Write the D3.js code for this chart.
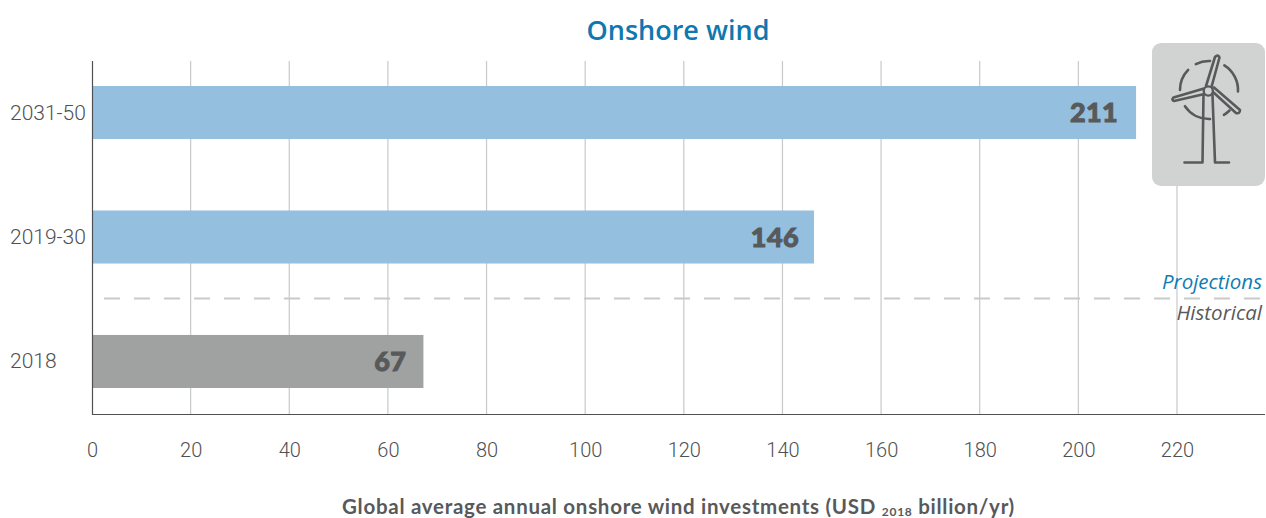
<!DOCTYPE html>
<html><head><meta charset="utf-8">
<script src="https://cdn.jsdelivr.net/npm/d3@7"></script>
<style>html,body{margin:0;padding:0;background:#fff}svg{display:block}text{font-family:Lato,sans-serif}</style>
</head><body><svg id="c" width="1266" height="518"></svg>
<script>
const categories=["2031-50","2019-30","2018"];
const barValues=[211.7,146.4,67.2];
const valueLabels=["211","146","67"];
const barColors=["#94bfdf","#94bfdf","#a0a2a1"];
const xTicks=[0,20,40,60,80,100,120,140,160,180,200,220];
const iconArcs=[[-27,2],[32,93],[135,149],[178,236],[270,314]];
const svg=d3.select("#c");
const x=d3.scaleLinear().domain([0,220]).range([92,1177]);
const y=d3.scaleBand().domain(categories).range([60.5,413.5]).paddingInner(0.574).paddingOuter(0.205);
const plotTop=61,plotBottom=414.5,plotRight=1265;

// gridlines
svg.append("g").selectAll("line").data(xTicks.slice(1)).join("line")
 .attr("x1",d=>x(d)).attr("x2",d=>x(d)).attr("y1",plotTop).attr("y2",plotBottom)
 .attr("stroke","#c8c9c9").attr("stroke-width",1.2);

// bars
svg.append("g").selectAll("rect").data(categories).join("rect")
 .attr("x",x(0)).attr("y",c=>y(c)).attr("height",y.bandwidth())
 .attr("width",(c,i)=>x(barValues[i])-x(0)).attr("fill",(c,i)=>barColors[i]);

// axes
svg.append("line").attr("x1",92.5).attr("x2",92.5).attr("y1",plotTop).attr("y2",plotBottom+0.5).attr("stroke","#4f5052").attr("stroke-width",1.2);
svg.append("line").attr("x1",92).attr("x2",plotRight).attr("y1",plotBottom).attr("y2",plotBottom).attr("stroke","#4f5052").attr("stroke-width",1.2);

// x tick labels
svg.append("g").selectAll("text").data(xTicks).join("text")
 .attr("x",d=>x(d)+0.5).attr("y",457).attr("text-anchor","middle")
 .attr("font-size",20).attr("font-weight",300).attr("fill","#4f5052").style("font-family","Roboto").text(d=>d);

// category labels
svg.append("g").selectAll("text").data(categories).join("text")
 .attr("x",10).attr("y",c=>y(c)+y.bandwidth()/2+7).attr("font-size",21).attr("font-weight",300)
 .attr("fill","#4f5052").style("font-family","Roboto").text(d=>d);

// value labels
svg.append("g").selectAll("text").data(categories).join("text")
 .attr("x",(c,i)=>x(barValues[i])-(i===2?17:i===1?15:18)).attr("y",c=>y(c)+y.bandwidth()/2+9.5)
 .attr("text-anchor","end").attr("font-size",27).attr("font-weight",900).attr("letter-spacing",0.4)
 .attr("fill","#58595b").attr("stroke","#58595b").attr("stroke-width",1).text((c,i)=>valueLabels[i]);

// divider
svg.append("line").attr("x1",104).attr("x2",plotRight).attr("y1",298.5).attr("y2",298.5)
 .attr("stroke","#c8c9c9").attr("stroke-width",1.8).attr("stroke-dasharray","16 14");
svg.append("text").attr("x",1262).attr("y",289).attr("text-anchor","end").attr("font-size",20.5)
 .attr("font-style","italic").attr("font-weight",400).attr("fill","#0f7cb3").style("font-family","Open Sans").text("Projections");
svg.append("text").attr("x",1262).attr("y",320).attr("text-anchor","end").attr("font-size",20.5)
 .attr("font-style","italic").attr("font-weight",400).attr("fill","#58595b").style("font-family","Open Sans").text("Historical");

// title
svg.append("text").attr("x",678).attr("y",40).attr("text-anchor","middle").attr("font-size",27).attr("font-weight",600)
 .attr("fill","#0f78b0").style("font-family","Open Sans").text("Onshore wind");

// axis title
const t=svg.append("text").attr("x",678.5).attr("y",514).attr("text-anchor","middle").attr("font-size",20.5).attr("font-weight",700).attr("letter-spacing",0.72).attr("fill","#58595b");
t.append("tspan").text("Global average annual onshore wind investments (USD ");
t.append("tspan").attr("font-size",12).attr("dy",2).text("2018");
t.append("tspan").attr("dy",-2).text(" billion/yr)");

// icon
const ic=svg.append("g");
ic.append("rect").attr("x",1152).attr("y",43).attr("width",113).attr("height",143).attr("rx",9).attr("fill","#d1d3d2");
const st=s=>s.attr("fill","none").attr("stroke","#58595b").attr("stroke-width",2.6).attr("stroke-linecap","round").attr("stroke-linejoin","round");
const rad=d3.scaleLinear().domain([0,360]).range([0,2*Math.PI]);
const arc=d3.arc().innerRadius(29).outerRadius(29);
ic.append("g").attr("transform","translate(1209,90)").selectAll("path").data(iconArcs).join("path")
 .attr("d",a=>arc({startAngle:rad(a[0]),endAngle:rad(a[1])})).call(st);
const icon=[
 "M1203.5,95 L1202.5,162.5 H1184.5",
 "M1212.5,95 L1215,162.5 H1229",
 "M1206,86 L1215,57 Q1218,54 1219.5,57.5 L1211.5,87",
 "M1204,88.5 L1173.5,97.5 Q1171,100 1174,101 L1204.5,94",
 "M1213,92 L1236,113 Q1240,114 1240,110 L1214,87.5"];
ic.selectAll("path.ic").data(icon).join("path").attr("class","ic").attr("d",d=>d).call(st);
ic.append("circle").attr("cx",1208.3).attr("cy",91).attr("r",4.6).attr("fill","#d1d3d2").attr("stroke","#58595b").attr("stroke-width",2.4);
</script></body></html>
